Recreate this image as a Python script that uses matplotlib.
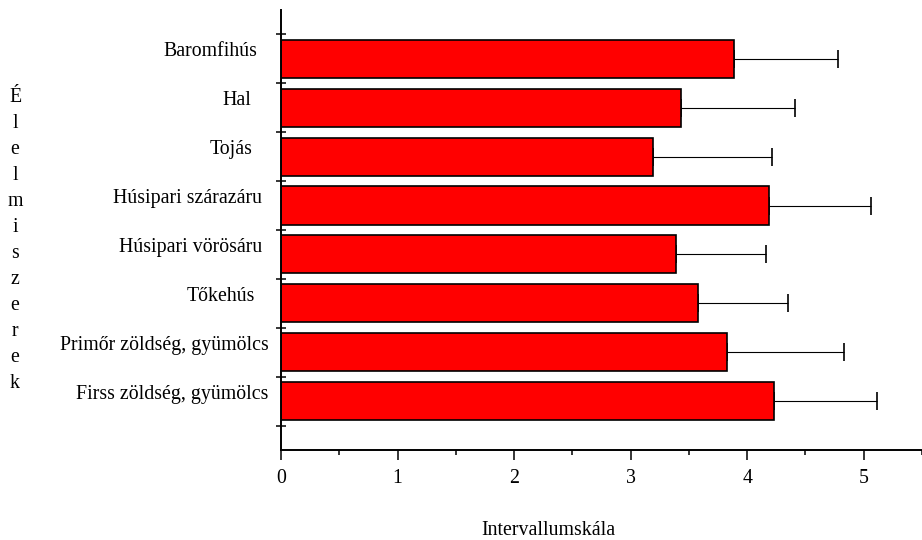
import matplotlib
matplotlib.use("Agg")
import matplotlib.pyplot as plt
import matplotlib.transforms as mtransforms
import numpy as np

plt.rcParams['font.family'] = ['Liberation Serif', 'DejaVu Serif']
plt.rcParams['font.size'] = 14.3

# food groups, top to bottom
categories = [
    "Baromfihús",
    "Hal",
    "Tojás",
    "Húsipari szárazáru",
    "Húsipari vörösáru",
    "Tőkehús",
    "Primőr zöldség, gyümölcs",
    "Firss zöldség, gyümölcs",
]
means = [3.89, 3.43, 3.19, 4.19, 3.39, 3.58, 3.83, 4.23]
errors = [0.89, 0.98, 1.02, 0.87, 0.77, 0.77, 1.00, 0.88]
xticks = [0, 1, 2, 3, 4, 5]

# extra left shift of each category label (points)
label_shift = [8.6, 13.0, 12.2, 5.0, 5.0, 10.0, 0.0, 0.7]

n = len(categories)
ypos = np.arange(n)[::-1]

fig = plt.figure(figsize=(9.22, 5.4), dpi=100)
ax = fig.add_axes([0.3048, 0.1667, 0.6952, 0.8148])

ax.barh(ypos, means, height=0.78, color='#ff0000', edgecolor='black',
        linewidth=1.2, zorder=2)
ax.errorbar(means, ypos, xerr=[np.zeros(n), errors], fmt='none',
            ecolor='black', elinewidth=0.8, capsize=6.5, capthick=1.2,
            zorder=1)

ax.set_xlim(0, 5.5)
ax.set_ylim(-1.0, 8.0)

for side in ['top', 'right']:
    ax.spines[side].set_visible(False)
for side in ['left', 'bottom']:
    ax.spines[side].set_linewidth(1.4)
    ax.spines[side].set_zorder(3)

ax.set_xticks(xticks)
ax.set_xticks(np.arange(0, 5.51, 0.5), minor=True)
ax.tick_params(axis='x', which='major', direction='out', length=7,
               width=1.1, pad=6.5)
ax.tick_params(axis='x', which='minor', direction='out', length=3.5,
               width=1.1)

# boundaries between bars get the crossing ticks, labels sit at bar centres
ax.set_yticks(np.arange(-0.5, n, 1.0))
ax.set_yticklabels([])
ax.set_yticks(ypos, minor=True)
ax.set_yticklabels(categories, minor=True)
ax.tick_params(axis='y', which='major', direction='inout', length=7,
               width=1.1)
ax.tick_params(axis='y', which='minor', direction='in', length=2.5,
               width=1.0, pad=8.6)

for lbl in ax.get_yticklabels(minor=True):
    idx = categories.index(lbl.get_text())
    lbl.set_transform(lbl.get_transform() + mtransforms.ScaledTranslation(
        -label_shift[idx] / 72, 6.8 / 72, fig.dpi_scale_trans))

ax.set_xlabel("Intervallumskála", va='center')
ax.xaxis.set_label_coords(0.4165, -0.182)

ax.set_ylabel("\n".join("Élelmiszerek"), rotation=0, ha='center',
              va='center', multialignment='center', linespacing=1.5)
ax.yaxis.set_label_coords(-0.415, 0.477)

fig.savefig("out.png", dpi=100)
